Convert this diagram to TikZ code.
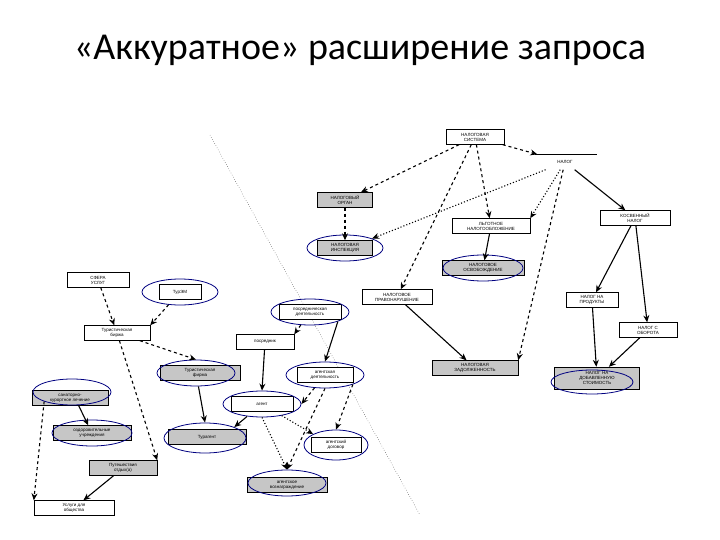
\documentclass[tikz,border=0pt]{standalone}
\usepackage{fontspec}
\setmainfont{Carlito}
\newfontfamily\boxfont{Liberation Sans}
\usetikzlibrary{arrows.meta,shapes.geometric}
\begin{document}
\begin{tikzpicture}[x=1pt,y=-1pt,
 bx/.style={draw,fill=white,font=\boxfont\fontsize{4.5}{5}\selectfont,align=center,inner sep=1.5pt,minimum height=15pt},
 gb/.style={bx,fill=gray!45},
 el/.style={draw=blue!50!black,thick,ellipse,minimum width=#1,minimum height=26pt},
 ds/.style={line width=1.1pt,dashed,-{Stealth[length=7pt,width=6pt]}},
 sl/.style={line width=1.1pt,-{Stealth[length=7pt,width=6pt]}},
 dt/.style={line width=1.1pt,dotted,-{Stealth[length=7pt,width=6pt]}}]
\useasboundingbox (0,0) rectangle (720,540);
\node (title) at (360,50) {\fontsize{38}{42}\selectfont «Аккуратное» расширение запроса};
\coordinate (d1) at (210,135); \coordinate (d2) at (420,515);
\draw[dotted] (d1) -- (d2);
% right part
\node[bx,minimum width=58pt] (ns) at (475,137) {НАЛОГОВАЯ\\СИСТЕМА};
\node[bx,draw=none,minimum width=60pt] (nl) at (565,162) {НАЛОГ};
\draw (535,154) -- (597,154);
\node[gb,minimum width=55pt] (no) at (345,200) {НАЛОГОВЫЙ\\ОРГАН};
\node[gb,minimum width=55pt] (ni) at (345,248) {НАЛОГОВАЯ\\ИНСПЕКЦИЯ};
\node[el=76pt] (eni) at (345,248) {};
\node[bx,minimum width=78pt] (lg) at (491,226) {ЛЬГОТНОЕ\\НАЛОГООБЛОЖЕНИЕ};
\node[gb,minimum width=82pt] (os) at (483,268) {НАЛОГОВОЕ\\ОСВОБОЖДЕНИЕ};
\node[el=80pt] (eos) at (483,268) {};
\node[bx,minimum width=70pt] (kn) at (635,218) {КОСВЕННЫЙ\\НАЛОГ};
\node[bx,minimum width=52pt] (np) at (592,300) {НАЛОГ НА\\ПРОДУКТЫ};
\node[bx,minimum width=58pt] (nob) at (648,330) {НАЛОГ С\\ОБОРОТА};
\node[gb,minimum width=85pt,minimum height=22pt] (nds) at (597,378) {НАЛОГ НА\\ДОБАВЛЕННУЮ\\СТОИМОСТЬ};
\node[el=82pt,minimum height=24pt] (ends) at (592,382) {};
\node[gb,minimum width=86pt] (nz) at (475,368) {НАЛОГОВАЯ\\ЗАДОЛЖЕННОСТЬ};
\node[bx,minimum width=70pt] (npr) at (397,297) {НАЛОГОВОЕ\\ПРАВОНАРУШЕНИЕ};
\draw[ds] (ns) -- (no);
\draw[ds] (ns) -- (nl);
\draw[ds] (ns) -- (lg);
\draw[ds] (ns) -- (npr);
\draw[dt] (nl) -- (lg.north east);
\draw[dt] (nl) -- (eni.north east);
\draw[ds] (nl) -- (nz.north east);
\draw[sl] (nl) -- (kn);
\draw[ds] (no) -- (ni);
\draw[sl] (lg) -- (os);
\draw[sl] (kn) -- (np);
\draw[sl] (kn) -- (nob);
\draw[sl] (np) -- (nds);
\draw[sl] (nob) -- (nds);
\draw[sl] (npr) -- (nz);
% left part
\node[bx,minimum width=62pt] (su) at (98,280) {СФЕРА\\УСЛУГ};
\node[bx,minimum width=42pt] (tu) at (180,292) {ТурЭМ};
\node[el=76pt] (etu) at (180,292) {};
\node[bx,minimum width=66pt] (tb) at (117,333) {Туристическая\\биржа};
\node[gb,minimum width=80pt] (tf) at (200,373) {Туристическая\\фирма};
\node[el=78pt] (etf) at (196,373) {};
\node[gb,minimum width=76pt] (sk) at (70,398) {санаторно-\\курортное лечение};
\node[el=78pt] (esk) at (72,392) {};
\node[gb,minimum width=78pt] (oz) at (92,433) {оздоровительные\\учреждения};
\node[el=80pt] (eoz) at (92,433) {};
\node[gb,minimum width=68pt] (pu) at (123,468) {Путешествия\\отдых(а)};
\node[bx,minimum width=80pt] (ob) at (74,508) {Услуги для\\общества};
\node[bx,minimum width=62pt] (pd) at (310,312) {посредническая\\деятельность};
\node[el=78pt] (epd) at (310,312) {};
\node[bx,minimum width=58pt] (pk) at (265,342) {посредник};
\node[bx,minimum width=56pt] (ad) at (325,375) {агентская\\деятельность};
\node[el=78pt] (ead) at (325,375) {};
\node[bx,minimum width=62pt] (ag) at (262,404) {агент};
\node[el=78pt] (eag) at (262,404) {};
\node[gb,minimum width=78pt] (ta) at (207,437) {Турагент};
\node[el=82pt,minimum height=30pt] (eta) at (205,438) {};
\node[bx,minimum width=50pt] (dg) at (336,445) {агентский\\договор};
\node[el=64pt,minimum height=30pt] (edg) at (336,445) {};
\node[gb,minimum width=80pt] (vz) at (287,485) {агентское\\вознаграждение};
\node[el=78pt] (evz) at (287,483) {};
\draw[ds] (su) -- (tb);
\draw[ds] (etu) -- (tb.north east);
\draw[ds] (tb) -- (etf.north);
\draw[ds] (tb) -- (pu.north east);
\draw[sl] (esk) -- (oz);
\draw[ds] (esk.south west) -- (ob.north west);
\draw[sl] (pu) -- (ob);
\draw[ds] (epd) -- (pk.north east);
\draw[sl] (epd.south east) -- (ead.north);
\draw[sl] (pk) -- (eag.north);
\draw[ds] (ead) -- (eag.east);
\draw[ds] (ead.south east) -- (edg.north);
\draw[ds] (ead.south) -- (evz.north);
\draw[sl] (eag) -- (eta.north east);
\draw[dt] (eag) -- (edg.north west);
\draw[dt] (eag.south) -- (evz.north);
\draw[sl] (etf) -- (eta.north);
\end{tikzpicture}
\end{document}
